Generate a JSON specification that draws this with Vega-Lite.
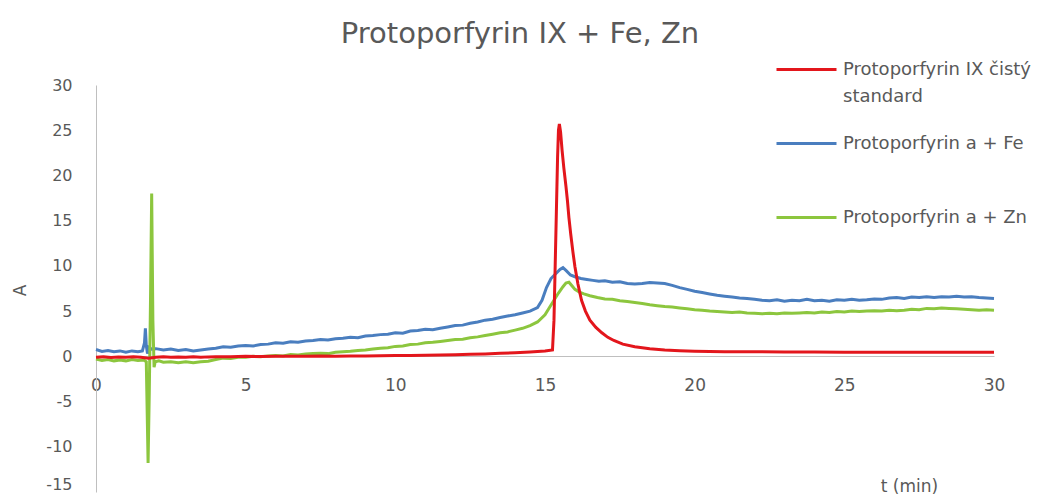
{
"$schema": "https://vega.github.io/schema/vega-lite/v6.json",
"width": 898, "height": 407,
"autosize": {"type": "none"},
"padding": {"left": 96, "top": 85, "right": 55, "bottom": 7},
"background": "white",
"config": {"view": {"stroke": null}, "font": "DejaVu Sans"},
"title": {"text": "Protoporfyrin IX + Fe, Zn", "font": "DejaVu Sans", "fontSize": 29, "fontWeight": "normal", "color": "#595959", "anchor": "middle", "frame": "group", "dx": -25, "dy": 11, "offset": 0},
"data": {"values": [
{"s":"B","t":0,"A":0.75},{"s":"B","t":0.2,"A":0.55},{"s":"B","t":0.4,"A":0.65},{"s":"B","t":0.6,"A":0.5},{"s":"B","t":0.8,"A":0.6},{"s":"B","t":1,"A":0.45},{"s":"B","t":1.2,"A":0.6},{"s":"B","t":1.4,"A":0.5},{"s":"B","t":1.55,"A":0.6},{"s":"B","t":1.62,"A":1.5},{"s":"B","t":1.65,"A":3.1},{"s":"B","t":1.68,"A":1.2},{"s":"B","t":1.72,"A":0.3},{"s":"B","t":1.76,"A":1.0},{"s":"B","t":1.85,"A":0.8},{"s":"B","t":2,"A":0.85},{"s":"B","t":2.25,"A":0.7},{"s":"B","t":2.5,"A":0.8},{"s":"B","t":2.75,"A":0.65},{"s":"B","t":3,"A":0.75},{"s":"B","t":3.25,"A":0.6},{"s":"B","t":3.5,"A":0.7},{"s":"B","t":3.75,"A":0.8},{"s":"B","t":4,"A":0.9},{"s":"B","t":4.25,"A":1.05},{"s":"B","t":4.5,"A":1.0},{"s":"B","t":4.75,"A":1.15},{"s":"B","t":5,"A":1.2},{"s":"B","t":5.25,"A":1.15},{"s":"B","t":5.5,"A":1.3},{"s":"B","t":5.75,"A":1.35},{"s":"B","t":6,"A":1.5},{"s":"B","t":6.25,"A":1.45},{"s":"B","t":6.5,"A":1.6},{"s":"B","t":6.75,"A":1.55},{"s":"B","t":7,"A":1.7},{"s":"B","t":7.25,"A":1.75},{"s":"B","t":7.5,"A":1.85},{"s":"B","t":7.75,"A":1.8},{"s":"B","t":8,"A":1.95},{"s":"B","t":8.25,"A":2.0},{"s":"B","t":8.5,"A":2.1},{"s":"B","t":8.75,"A":2.05},{"s":"B","t":9,"A":2.25},{"s":"B","t":9.25,"A":2.3},{"s":"B","t":9.5,"A":2.4},{"s":"B","t":9.75,"A":2.45},{"s":"B","t":10,"A":2.6},{"s":"B","t":10.25,"A":2.55},{"s":"B","t":10.5,"A":2.8},{"s":"B","t":10.75,"A":2.85},{"s":"B","t":11,"A":3.0},{"s":"B","t":11.25,"A":2.95},{"s":"B","t":11.5,"A":3.1},{"s":"B","t":11.75,"A":3.25},{"s":"B","t":12,"A":3.4},{"s":"B","t":12.25,"A":3.45},{"s":"B","t":12.5,"A":3.65},{"s":"B","t":12.75,"A":3.8},{"s":"B","t":13,"A":4.0},{"s":"B","t":13.25,"A":4.1},{"s":"B","t":13.5,"A":4.3},{"s":"B","t":13.75,"A":4.45},{"s":"B","t":14,"A":4.6},{"s":"B","t":14.25,"A":4.8},{"s":"B","t":14.5,"A":5.0},{"s":"B","t":14.75,"A":5.4},{"s":"B","t":14.9,"A":6.2},{"s":"B","t":15.05,"A":7.6},{"s":"B","t":15.2,"A":8.6},{"s":"B","t":15.35,"A":9.1},{"s":"B","t":15.5,"A":9.6},{"s":"B","t":15.6,"A":9.8},{"s":"B","t":15.7,"A":9.5},{"s":"B","t":15.85,"A":9.0},{"s":"B","t":16,"A":8.8},{"s":"B","t":16.2,"A":8.6},{"s":"B","t":16.4,"A":8.5},{"s":"B","t":16.6,"A":8.4},{"s":"B","t":16.8,"A":8.3},{"s":"B","t":17,"A":8.35},{"s":"B","t":17.25,"A":8.2},{"s":"B","t":17.5,"A":8.25},{"s":"B","t":17.75,"A":8.05},{"s":"B","t":18,"A":8.0},{"s":"B","t":18.25,"A":8.05},{"s":"B","t":18.5,"A":8.15},{"s":"B","t":18.75,"A":8.1},{"s":"B","t":19,"A":8.05},{"s":"B","t":19.25,"A":7.85},{"s":"B","t":19.5,"A":7.6},{"s":"B","t":19.75,"A":7.4},{"s":"B","t":20,"A":7.2},{"s":"B","t":20.25,"A":7.05},{"s":"B","t":20.5,"A":6.9},{"s":"B","t":20.75,"A":6.75},{"s":"B","t":21,"A":6.65},{"s":"B","t":21.25,"A":6.55},{"s":"B","t":21.5,"A":6.45},{"s":"B","t":21.75,"A":6.4},{"s":"B","t":22,"A":6.3},{"s":"B","t":22.25,"A":6.2},{"s":"B","t":22.5,"A":6.15},{"s":"B","t":22.75,"A":6.25},{"s":"B","t":23,"A":6.1},{"s":"B","t":23.25,"A":6.2},{"s":"B","t":23.5,"A":6.15},{"s":"B","t":23.75,"A":6.3},{"s":"B","t":24,"A":6.15},{"s":"B","t":24.25,"A":6.2},{"s":"B","t":24.5,"A":6.1},{"s":"B","t":24.75,"A":6.25},{"s":"B","t":25,"A":6.2},{"s":"B","t":25.25,"A":6.3},{"s":"B","t":25.5,"A":6.2},{"s":"B","t":25.75,"A":6.25},{"s":"B","t":26,"A":6.35},{"s":"B","t":26.25,"A":6.3},{"s":"B","t":26.5,"A":6.45},{"s":"B","t":26.75,"A":6.5},{"s":"B","t":27,"A":6.4},{"s":"B","t":27.25,"A":6.55},{"s":"B","t":27.5,"A":6.5},{"s":"B","t":27.75,"A":6.6},{"s":"B","t":28,"A":6.5},{"s":"B","t":28.25,"A":6.6},{"s":"B","t":28.5,"A":6.55},{"s":"B","t":28.75,"A":6.65},{"s":"B","t":29,"A":6.55},{"s":"B","t":29.25,"A":6.6},{"s":"B","t":29.5,"A":6.5},{"s":"B","t":29.75,"A":6.45},{"s":"B","t":30,"A":6.4},
{"s":"G","t":0,"A":-0.3},{"s":"G","t":0.2,"A":-0.45},{"s":"G","t":0.4,"A":-0.35},{"s":"G","t":0.6,"A":-0.5},{"s":"G","t":0.8,"A":-0.4},{"s":"G","t":1,"A":-0.5},{"s":"G","t":1.2,"A":-0.35},{"s":"G","t":1.4,"A":-0.45},{"s":"G","t":1.6,"A":-0.4},{"s":"G","t":1.68,"A":-0.6},{"s":"G","t":1.74,"A":-11.8},{"s":"G","t":1.78,"A":-4},{"s":"G","t":1.82,"A":6},{"s":"G","t":1.86,"A":18.0},{"s":"G","t":1.9,"A":4},{"s":"G","t":1.94,"A":-1.2},{"s":"G","t":1.98,"A":-0.6},{"s":"G","t":2.1,"A":-0.5},{"s":"G","t":2.25,"A":-0.65},{"s":"G","t":2.5,"A":-0.6},{"s":"G","t":2.75,"A":-0.7},{"s":"G","t":3,"A":-0.6},{"s":"G","t":3.25,"A":-0.7},{"s":"G","t":3.5,"A":-0.6},{"s":"G","t":3.75,"A":-0.55},{"s":"G","t":4,"A":-0.35},{"s":"G","t":4.25,"A":-0.2},{"s":"G","t":4.5,"A":-0.25},{"s":"G","t":4.75,"A":-0.1},{"s":"G","t":5,"A":-0.1},{"s":"G","t":5.25,"A":0.0},{"s":"G","t":5.5,"A":-0.05},{"s":"G","t":5.75,"A":0.05},{"s":"G","t":6,"A":0.1},{"s":"G","t":6.25,"A":0.05},{"s":"G","t":6.5,"A":0.2},{"s":"G","t":6.75,"A":0.15},{"s":"G","t":7,"A":0.25},{"s":"G","t":7.25,"A":0.3},{"s":"G","t":7.5,"A":0.35},{"s":"G","t":7.75,"A":0.3},{"s":"G","t":8,"A":0.45},{"s":"G","t":8.25,"A":0.5},{"s":"G","t":8.5,"A":0.55},{"s":"G","t":8.75,"A":0.65},{"s":"G","t":9,"A":0.7},{"s":"G","t":9.25,"A":0.8},{"s":"G","t":9.5,"A":0.9},{"s":"G","t":9.75,"A":0.95},{"s":"G","t":10,"A":1.1},{"s":"G","t":10.25,"A":1.15},{"s":"G","t":10.5,"A":1.3},{"s":"G","t":10.75,"A":1.35},{"s":"G","t":11,"A":1.5},{"s":"G","t":11.25,"A":1.55},{"s":"G","t":11.5,"A":1.65},{"s":"G","t":11.75,"A":1.75},{"s":"G","t":12,"A":1.85},{"s":"G","t":12.25,"A":1.9},{"s":"G","t":12.5,"A":2.05},{"s":"G","t":12.75,"A":2.15},{"s":"G","t":13,"A":2.3},{"s":"G","t":13.25,"A":2.45},{"s":"G","t":13.5,"A":2.6},{"s":"G","t":13.75,"A":2.7},{"s":"G","t":14,"A":2.9},{"s":"G","t":14.25,"A":3.1},{"s":"G","t":14.5,"A":3.4},{"s":"G","t":14.75,"A":3.8},{"s":"G","t":15,"A":4.6},{"s":"G","t":15.15,"A":5.4},{"s":"G","t":15.3,"A":6.2},{"s":"G","t":15.45,"A":7.0},{"s":"G","t":15.6,"A":7.7},{"s":"G","t":15.7,"A":8.1},{"s":"G","t":15.8,"A":8.2},{"s":"G","t":15.9,"A":7.8},{"s":"G","t":16,"A":7.4},{"s":"G","t":16.15,"A":7.1},{"s":"G","t":16.3,"A":6.9},{"s":"G","t":16.5,"A":6.7},{"s":"G","t":16.75,"A":6.5},{"s":"G","t":17,"A":6.35},{"s":"G","t":17.25,"A":6.3},{"s":"G","t":17.5,"A":6.15},{"s":"G","t":17.75,"A":6.05},{"s":"G","t":18,"A":5.95},{"s":"G","t":18.25,"A":5.85},{"s":"G","t":18.5,"A":5.7},{"s":"G","t":18.75,"A":5.6},{"s":"G","t":19,"A":5.5},{"s":"G","t":19.25,"A":5.45},{"s":"G","t":19.5,"A":5.35},{"s":"G","t":19.75,"A":5.25},{"s":"G","t":20,"A":5.15},{"s":"G","t":20.25,"A":5.1},{"s":"G","t":20.5,"A":5.0},{"s":"G","t":20.75,"A":4.95},{"s":"G","t":21,"A":4.9},{"s":"G","t":21.25,"A":4.85},{"s":"G","t":21.5,"A":4.9},{"s":"G","t":21.75,"A":4.8},{"s":"G","t":22,"A":4.75},{"s":"G","t":22.25,"A":4.7},{"s":"G","t":22.5,"A":4.75},{"s":"G","t":22.75,"A":4.7},{"s":"G","t":23,"A":4.8},{"s":"G","t":23.25,"A":4.75},{"s":"G","t":23.5,"A":4.8},{"s":"G","t":23.75,"A":4.85},{"s":"G","t":24,"A":4.8},{"s":"G","t":24.25,"A":4.9},{"s":"G","t":24.5,"A":4.85},{"s":"G","t":24.75,"A":4.95},{"s":"G","t":25,"A":4.9},{"s":"G","t":25.25,"A":5.0},{"s":"G","t":25.5,"A":4.95},{"s":"G","t":25.75,"A":5.0},{"s":"G","t":26,"A":5.05},{"s":"G","t":26.25,"A":5.0},{"s":"G","t":26.5,"A":5.1},{"s":"G","t":26.75,"A":5.05},{"s":"G","t":27,"A":5.1},{"s":"G","t":27.25,"A":5.2},{"s":"G","t":27.5,"A":5.15},{"s":"G","t":27.75,"A":5.3},{"s":"G","t":28,"A":5.25},{"s":"G","t":28.25,"A":5.35},{"s":"G","t":28.5,"A":5.3},{"s":"G","t":28.75,"A":5.25},{"s":"G","t":29,"A":5.2},{"s":"G","t":29.25,"A":5.15},{"s":"G","t":29.5,"A":5.1},{"s":"G","t":29.75,"A":5.15},{"s":"G","t":30,"A":5.1},
{"s":"R","t":0,"A":-0.1},{"s":"R","t":0.25,"A":-0.05},{"s":"R","t":0.5,"A":-0.12},{"s":"R","t":0.75,"A":-0.08},{"s":"R","t":1,"A":-0.1},{"s":"R","t":1.25,"A":-0.06},{"s":"R","t":1.5,"A":-0.1},{"s":"R","t":1.75,"A":-0.2},{"s":"R","t":2,"A":-0.1},{"s":"R","t":2.25,"A":-0.05},{"s":"R","t":2.5,"A":-0.1},{"s":"R","t":2.75,"A":-0.08},{"s":"R","t":3,"A":-0.1},{"s":"R","t":3.25,"A":-0.05},{"s":"R","t":3.5,"A":-0.1},{"s":"R","t":3.75,"A":-0.06},{"s":"R","t":4,"A":-0.05},{"s":"R","t":4.5,"A":-0.05},{"s":"R","t":5,"A":0},{"s":"R","t":5.5,"A":-0.02},{"s":"R","t":6,"A":0},{"s":"R","t":6.5,"A":0.02},{"s":"R","t":7,"A":0},{"s":"R","t":7.5,"A":0.03},{"s":"R","t":8,"A":0.02},{"s":"R","t":8.5,"A":0.05},{"s":"R","t":9,"A":0.04},{"s":"R","t":9.5,"A":0.06},{"s":"R","t":10,"A":0.08},{"s":"R","t":10.5,"A":0.1},{"s":"R","t":11,"A":0.12},{"s":"R","t":11.5,"A":0.14},{"s":"R","t":12,"A":0.18},{"s":"R","t":12.5,"A":0.22},{"s":"R","t":13,"A":0.27},{"s":"R","t":13.5,"A":0.33},{"s":"R","t":14,"A":0.4},{"s":"R","t":14.5,"A":0.48},{"s":"R","t":15,"A":0.58},{"s":"R","t":15.25,"A":0.7},{"s":"R","t":15.3,"A":4},{"s":"R","t":15.34,"A":10},{"s":"R","t":15.38,"A":16},{"s":"R","t":15.42,"A":22},{"s":"R","t":15.45,"A":25},{"s":"R","t":15.48,"A":25.7},{"s":"R","t":15.52,"A":24.8},{"s":"R","t":15.57,"A":22.8},{"s":"R","t":15.63,"A":20.8},{"s":"R","t":15.7,"A":18.8},{"s":"R","t":15.75,"A":17.2},{"s":"R","t":15.8,"A":15.3},{"s":"R","t":15.86,"A":13.5},{"s":"R","t":15.93,"A":11.6},{"s":"R","t":16,"A":9.9},{"s":"R","t":16.1,"A":8},{"s":"R","t":16.22,"A":6.2},{"s":"R","t":16.35,"A":5},{"s":"R","t":16.5,"A":4},{"s":"R","t":16.7,"A":3.2},{"s":"R","t":16.9,"A":2.6},{"s":"R","t":17.1,"A":2.1},{"s":"R","t":17.3,"A":1.75},{"s":"R","t":17.6,"A":1.35},{"s":"R","t":18,"A":1.05},{"s":"R","t":18.5,"A":0.85},{"s":"R","t":19,"A":0.7},{"s":"R","t":19.5,"A":0.62},{"s":"R","t":20,"A":0.57},{"s":"R","t":21,"A":0.52},{"s":"R","t":22,"A":0.5},{"s":"R","t":23,"A":0.48},{"s":"R","t":24,"A":0.47},{"s":"R","t":25,"A":0.46},{"s":"R","t":26,"A":0.46},{"s":"R","t":27,"A":0.45},{"s":"R","t":28,"A":0.45},{"s":"R","t":29,"A":0.45},{"s":"R","t":30,"A":0.45}
]},
"mark": {"type": "line", "strokeWidth": 3},
"encoding": {
  "x": {"field": "t", "type": "quantitative",
    "scale": {"domain": [0, 30], "nice": false, "zero": false},
    "axis": {"values": [0, 5, 10, 15, 20, 25, 30], "offset": -136, "ticks": false, "grid": false, "labelFlush": false,
      "domainColor": "#BFBFBF", "domainWidth": 1, "labelColor": "#595959", "labelFont": "DejaVu Sans", "labelFontSize": 17, "labelPadding": 21,
      "title": "t (min)", "titleX": 813, "titleY": 130, "titleBaseline": "middle", "titleAlign": "center",
      "titleFont": "DejaVu Sans", "titleFontWeight": "normal", "titleFontSize": 17, "titleColor": "#595959"}},
  "y": {"field": "A", "type": "quantitative",
    "scale": {"domain": [-15, 30], "nice": false},
    "axis": {"values": [-15, -10, -5, 0, 5, 10, 15, 20, 25, 30], "ticks": false, "grid": false, "labelFlush": false,
      "labelExpr": "toString(datum.value)",
      "labelBaseline": {"condition": {"test": "datum.value == -15", "value": "bottom"}, "value": "middle"},
      "domainColor": "#BFBFBF", "domainWidth": 1, "labelColor": "#595959", "labelFont": "DejaVu Sans", "labelFontSize": 16, "labelPadding": 24,
      "title": "A", "titleX": -76, "titleY": 205, "titleBaseline": "middle", "titleAlign": "center",
      "titleFont": "DejaVu Sans", "titleFontWeight": "normal", "titleFontSize": 17, "titleColor": "#595959"}},
  "color": {"field": "s", "type": "nominal",
    "scale": {"domain": ["R", "B", "G"], "range": ["#E3161C", "#4A7EBF", "#8CC63E"]},
    "legend": {"orient": "none", "legendX": 679, "legendY": -47, "title": null, "padding": 0,
      "symbolType": "stroke", "symbolStrokeWidth": 3, "symbolSize": 3600, "labelOffset": 5, "gridAlign": "all",
      "labelFont": "DejaVu Sans", "labelFontSize": 18, "labelColor": "#595959", "labelLimit": 300, "rowPadding": 6,
      "labelExpr": "datum.value == 'R' ? ['Protoporfyrin IX čistý', 'standard'] : datum.value == 'B' ? 'Protoporfyrin a + Fe' : 'Protoporfyrin a + Zn'",
      "encode": {"labels": {"update": {"lineHeight": {"value": 27}}}}}}
}
}
